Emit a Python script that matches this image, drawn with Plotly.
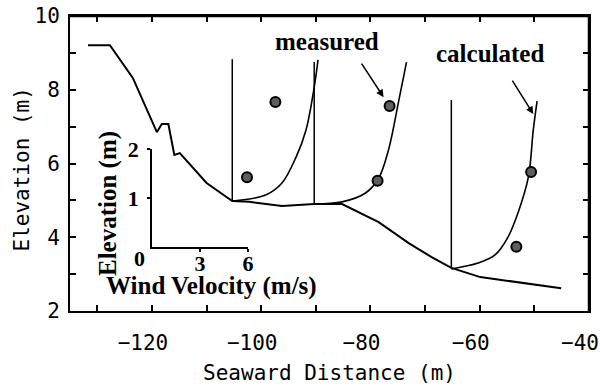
import plotly.graph_objects as go

# ---- data ----
profile_x = [-131.7, -127.7, -123.5, -119.1, -118.2, -117.0, -115.9, -114.9, -110.0, -105.3,
             -102.2, -96.2, -90.3, -85.2, -78.5, -73.0, -68.8, -65.2, -59.9, -45.1]
profile_y = [9.21, 9.21, 8.32, 6.85, 7.07, 7.07, 6.23, 6.28, 5.47, 4.98,
             4.96, 4.85, 4.90, 4.90, 4.41, 3.84, 3.46, 3.17, 2.92, 2.62]

station_x = [-105.3, -90.3, -65.2]
station_bottom = [4.98, 4.90, 3.17]
station_top = [8.83, 8.75, 7.72]

calc1_x = [-105.3, -99.1, -96.2, -93.6, -91.8, -90.3, -89.6]
calc1_y = [4.98, 5.15, 5.47, 6.18, 6.91, 8.07, 8.81]
calc2_x = [-90.3, -85.2, -80.9, -78.5, -76.7, -74.8, -73.4]
calc2_y = [4.90, 4.96, 5.20, 5.60, 6.37, 7.72, 8.75]
calc3_x = [-65.2, -60.3, -57.2, -54.8, -53.0, -51.1, -50.2, -49.5]
calc3_y = [3.14, 3.30, 3.52, 4.01, 4.66, 5.63, 6.91, 7.69]

meas_x = [-102.6, -97.4, -78.7, -76.5, -53.3, -50.6]
meas_y = [5.63, 7.67, 5.53, 7.56, 3.74, 5.77]

x_range = [-135, -40]
y_range = [2, 10]
x_major, x_minor = 20, 10
y_major, y_minor = 2, 1
inset_xticks = [3, 6]
inset_yticks = [1, 2]

fig = go.Figure()

fig.add_trace(go.Scatter(x=profile_x, y=profile_y, mode="lines",
                         line=dict(color="black", width=2)))
for sx, sb, st in zip(station_x, station_bottom, station_top):
    fig.add_trace(go.Scatter(x=[sx, sx], y=[sb, st], mode="lines",
                             line=dict(color="black", width=1.5)))
for cx, cy in [(calc1_x, calc1_y), (calc2_x, calc2_y), (calc3_x, calc3_y)]:
    fig.add_trace(go.Scatter(x=cx, y=cy, mode="lines",
                             line=dict(color="black", width=1.6, shape="spline", smoothing=1.0)))
fig.add_trace(go.Scatter(x=meas_x, y=meas_y, mode="markers",
                         marker=dict(size=10, color="#5e5e5e", line=dict(color="black", width=2))))

# carriers for the inset axes and the top/right frame axes
fig.add_trace(go.Scatter(x=[], y=[], xaxis="x2", yaxis="y2"))
fig.add_trace(go.Scatter(x=[], y=[], xaxis="x3", yaxis="y3"))

tickfont = dict(family="DejaVu Sans Mono", size=21, color="black")
serif = "Liberation Serif"
inset_tickfont = dict(family=serif, size=22, color="black", weight="bold")
tick_style = dict(ticks="inside", ticklen=6, tickwidth=1.5, tickcolor="black")

fig.update_layout(
    width=600, height=387,
    margin=dict(l=70, r=11, t=16, b=76),
    paper_bgcolor="white", plot_bgcolor="rgba(0,0,0,0)",
    showlegend=False,
    xaxis=dict(range=x_range, dtick=x_major, tick0=0, showgrid=False, zeroline=False,
               automargin=False, showline=True, linecolor="black", linewidth=2,
               **tick_style, minor=dict(dtick=x_minor, **tick_style),
               tickfont=tickfont, ticklabelshift=-9, ticklabelstandoff=12,
               ticklabeloverflow="allow",
               title=dict(text="Seaward Distance (m)", font=tickfont, standoff=11)),
    yaxis=dict(range=y_range, dtick=y_major, showgrid=False, zeroline=False,
               automargin=False, showline=True, linecolor="black", linewidth=2,
               **tick_style, minor=dict(dtick=y_minor, **tick_style),
               tickfont=tickfont, ticklabelstandoff=4, ticklabeloverflow="allow"),
    xaxis3=dict(overlaying="x", side="top", anchor="y", range=x_range, dtick=x_minor, tick0=0,
                showgrid=False, zeroline=False, automargin=False, showticklabels=False,
                showline=True, linecolor="black", linewidth=2, **tick_style),
    yaxis3=dict(overlaying="y", side="right", anchor="x", range=y_range, dtick=y_minor,
                showgrid=False, zeroline=False, automargin=False, showticklabels=False,
                showline=True, linecolor="black", linewidth=2, **tick_style),
    xaxis2=dict(domain=[0.158, 0.343], anchor="y2", range=[0, 6], tickvals=inset_xticks,
                automargin=False,
                showgrid=False, zeroline=False, showline=True, linecolor="black", linewidth=1.5,
                ticks="outside", ticklen=3, tickwidth=1.5, tickcolor="black",
                tickfont=inset_tickfont, ticklabelstandoff=-7),
    yaxis2=dict(domain=[0.217, 0.549], anchor="x2", range=[0, 2], tickvals=inset_yticks,
                automargin=False,
                showgrid=False, zeroline=False, showline=True, linecolor="black", linewidth=1.5,
                ticks="outside", ticklen=3, tickwidth=1.5, tickcolor="black",
                tickfont=inset_tickfont, ticklabelstandoff=4),
)

# plot frame: top and right edges
fig.add_shape(type="line", xref="paper", yref="paper", x0=0, x1=1, y0=1, y1=1,
              line=dict(color="black", width=2.5), layer="above")
fig.add_shape(type="line", xref="paper", yref="paper", x0=1, x1=1, y0=0, y1=1,
              line=dict(color="black", width=2.5), layer="above")

# main y-axis title
fig.add_annotation(x=0, y=0.5, xref="paper", yref="paper", text="Elevation (m)",
                   showarrow=False, textangle=-90, xanchor="center", yanchor="middle",
                   xshift=-49, yshift=-6, font=tickfont)

bold_font = dict(family=serif, size=25, color="black", weight="bold")
fig.add_annotation(x=-88.0, y=9.30, text="measured", showarrow=False, font=bold_font)
fig.add_annotation(x=-58.1, y=8.97, text="calculated", showarrow=False, font=bold_font)
fig.add_annotation(x=-77.6, y=7.80, ax=-81.8, ay=8.75, axref="x", ayref="y", text="",
                   showarrow=True, arrowhead=2, arrowsize=1, arrowwidth=1.5, arrowcolor="black")
fig.add_annotation(x=-50.2, y=7.34, ax=-54.2, ay=8.29, axref="x", ayref="y", text="",
                   showarrow=True, arrowhead=2, arrowsize=1, arrowwidth=1.5, arrowcolor="black")
# inset labels
fig.add_annotation(x=0, y=0, xref="x2", yref="y2", text="0", showarrow=False,
                   xshift=-13, yshift=-12, font=inset_tickfont)
fig.add_annotation(x=0.5, y=0, xref="x2 domain", yref="y2 domain", text="Wind Velocity (m/s)",
                   showarrow=False, xanchor="center", yanchor="middle",
                   xshift=11, yshift=-39, font=bold_font)
fig.add_annotation(x=0, y=0.5, xref="x2 domain", yref="y2 domain", text="Elevation (m)",
                   showarrow=False, textangle=-90, xanchor="center", yanchor="middle",
                   xshift=-44, yshift=-6, font=bold_font)

fig.write_html("out.html", config={"displayModeBar": False},
               post_script="document.body.style.margin='0px';")
